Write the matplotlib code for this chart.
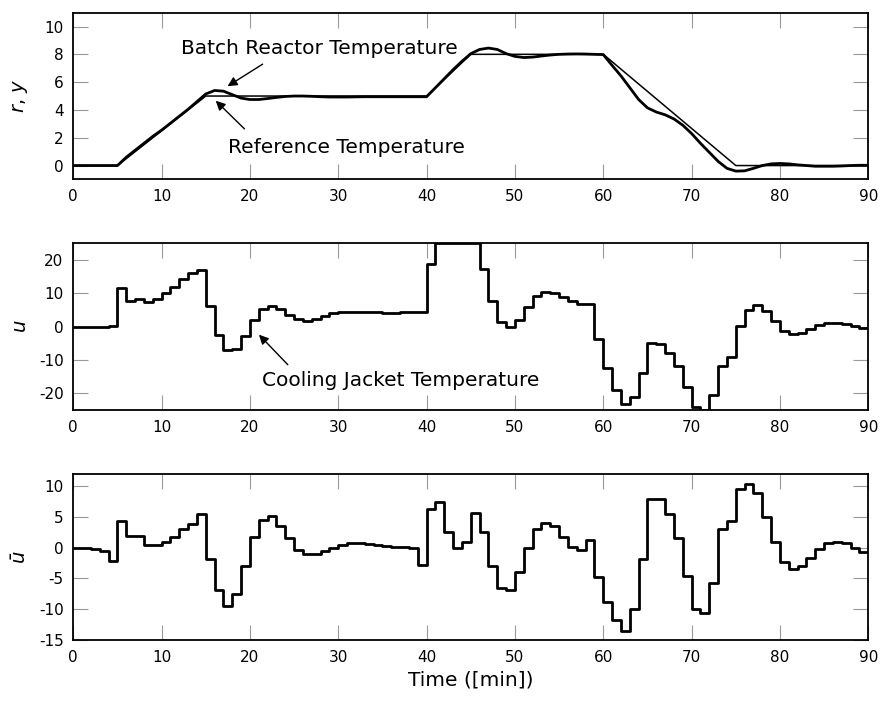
import numpy as np
import matplotlib
matplotlib.use('Agg')
import matplotlib.pyplot as plt

# reference trajectory corners (min, degC)
ref_t = [0, 5, 15, 40, 45, 60, 75, 90]
ref_r = [0, 0, 5, 5, 8, 8, 0, 0]

# measured reactor temperature, one value per minute
y_out = [0, 0, 0, 0, 0, 0, 0.6, 1.1, 1.6, 2.1, 2.55,
         3.05, 3.55, 4.05, 4.6, 5.15, 5.4, 5.35, 5.1, 4.85, 4.75,
         4.75, 4.82, 4.9, 4.97, 5.0, 5.0, 4.98, 4.95, 4.93, 4.93,
         4.93, 4.94, 4.95, 4.95, 4.95, 4.95, 4.95, 4.95, 4.95, 4.95,
         5.6, 6.25, 6.9, 7.5, 8.05, 8.35, 8.45, 8.35, 8.05, 7.85,
         7.77, 7.8, 7.88, 7.95, 8.0, 8.02, 8.03, 8.02, 8.0, 7.98,
         7.2, 6.45, 5.6, 4.75, 4.15, 3.85, 3.65, 3.35, 2.9, 2.3,
         1.6, 0.95, 0.3, -0.2, -0.4, -0.38, -0.2, 0.0, 0.12, 0.15,
         0.12, 0.05, 0.0, -0.05, -0.05, -0.05, -0.03, 0.0, 0.02, 0.02]

# control input u (cooling jacket), held over each minute
u_in = [0, 0, 0, -0.2, 0.2, 11.5, 7.7, 8.2, 7.5, 8.2,
        10, 12, 14.2, 16, 17, 6.2, -2.5, -7, -6.8, -2.7,
        2, 5.3, 6.2, 5.3, 3.5, 2.3, 1.8, 2.3, 3.2, 4,
        4.4, 4.5, 4.5, 4.4, 4.3, 4.2, 4.2, 4.3, 4.4, 4.4,
        18.8, 25, 25, 25, 25, 25, 17.2, 7.7, 1.5, -0.2,
        2, 6, 9.2, 10.5, 10.2, 9, 7.7, 6.8, 6.8, -3.7,
        -12.3, -19, -23.2, -21, -13.8, -5, -5.2, -7.8, -11.8, -18,
        -24, -25, -20.5, -11.8, -9.2, 0.2, 5, 6.5, 4.7, 1.7,
        -1.2, -2.3, -2, -0.8, 0.5, 1, 1.2, 0.7, 0.2, -0.3]

# u bar, held over each minute
ubar = [0, 0, -0.15, -0.5, -2.1, 4.4, 1.9, 1.9, 0.5, 0.4,
        0.9, 1.7, 3, 3.9, 5.4, -1.8, -6.9, -9.5, -7.5, -3,
        1.7, 4.5, 5.1, 3.5, 1.5, -0.4, -1.1, -1.1, -0.6, -0.1,
        0.4, 0.8, 0.8, 0.6, 0.4, 0.2, 0.1, 0.1, 0.0, -2.8,
        6.3, 7.5, 2.6, 0, 1, 5.6, 2.5, -3, -6.6, -6.8,
        -3.9, 0, 3, 4, 3.5, 1.7, 0.1, -0.4, 1.3, -4.8,
        -8.8, -11.8, -13.6, -10, -1.8, 7.9, 7.9, 5.5, 1.5, -4.6,
        -10, -10.6, -5.8, 3.1, 4.3, 9.6, 10.4, 8.9, 5, 0.9,
        -2.3, -3.5, -3, -1.6, -0.2, 0.8, 1, 0.8, 0, -0.7]

plt.rcParams['font.family'] = 'DejaVu Sans'
plt.rcParams['mathtext.fontset'] = 'dejavusans'
plt.rcParams['axes.unicode_minus'] = False

fig = plt.figure(figsize=(8.81, 7.01), dpi=100)
ax1 = fig.add_axes([0.0832, 0.744, 0.9024, 0.238])
ax2 = fig.add_axes([0.0832, 0.415, 0.9024, 0.238])
ax3 = fig.add_axes([0.0832, 0.087, 0.9024, 0.237])

t_y = np.arange(len(y_out))
ax1.plot(ref_t, ref_r, color='k', lw=1.1)
ax1.plot(t_y, y_out, color='k', lw=2.0)

t_u = np.arange(len(u_in) + 1)
ax2.step(t_u, u_in + [u_in[-1]], where='post', color='k', lw=2.0)
ax3.step(t_u, ubar + [ubar[-1]], where='post', color='k', lw=2.0)

for ax in (ax1, ax2, ax3):
    ax.set_xlim(0, 90)
    ax.set_xticks(np.arange(0, 91, 10))
    ax.tick_params(direction='in', length=11, width=0.8, color='#999999',
                   top=True, right=True, labelsize=11, pad=7)
    for s in ax.spines.values():
        s.set_linewidth(1.3)

ax1.set_ylim(-1, 11)
ax1.set_yticks([0, 2, 4, 6, 8, 10])
ax2.set_ylim(-25, 25)
ax2.set_yticks([-20, -10, 0, 10, 20])
ax3.set_ylim(-15, 12)
ax3.set_yticks([-15, -10, -5, 0, 5, 10])

ax1.set_ylabel('$r$, $y$', fontsize=14)
ax2.set_ylabel('$u$', fontsize=14)
ax3.set_ylabel(r'$\bar{u}$', fontsize=14)
ax3.set_xlabel('Time ([min])', fontsize=14.5)
for ax in (ax1, ax2, ax3):
    ax.yaxis.set_label_coords(-0.055, 0.5)

arrow = dict(arrowstyle='-|>', color='k', lw=1.0, mutation_scale=14)
ax1.text(27.9, 8.4, 'Batch Reactor Temperature', ha='center', va='center', fontsize=14.5)
ax1.annotate('', xy=(17.2, 5.6), xytext=(21.7, 7.4), arrowprops=arrow)
ax1.text(30.9, 1.3, 'Reference Temperature', ha='center', va='center', fontsize=14.5)
ax1.annotate('', xy=(15.9, 4.8), xytext=(19.6, 2.5), arrowprops=arrow)
ax2.text(37.1, -16, 'Cooling Jacket Temperature', ha='center', va='center', fontsize=14.5)
ax2.annotate('', xy=(20.8, -1.8), xytext=(24.5, -12), arrowprops=arrow)

fig.savefig('out.png', dpi=100)
